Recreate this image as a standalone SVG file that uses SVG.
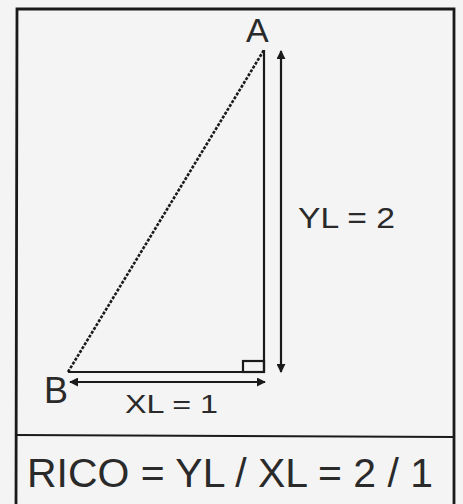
<svg xmlns="http://www.w3.org/2000/svg" width="463" height="504" viewBox="0 0 463 504">
<style>
.ln{stroke:#1a1a1a;stroke-width:2.2;fill:none}
.bd{stroke:#1a1a1a;stroke-width:2.8;fill:none}
.dot{stroke:#1a1a1a;stroke-width:2.6;fill:none;stroke-dasharray:3 1.5}
.t{font-family:"Liberation Sans",Arial,sans-serif;fill:#2a2a2a}
</style>
<defs>
<marker id="ah" viewBox="0 0 10 10" refX="9" refY="5" markerWidth="9" markerHeight="9" orient="auto-start-reverse" markerUnits="userSpaceOnUse">
<path d="M0,0 L10,5 L0,10 Z" fill="#1a1a1a"/>
</marker>
</defs>
<rect x="0" y="0" width="463" height="504" fill="#f4f4f4"/>
<g id="frame">
<path class="bd" d="M16,506 L17,9 L454,9 L454,506"/>
<line class="ln" x1="16" y1="435" x2="454" y2="437"/>
</g>
<g id="triangle">
<line class="ln" x1="264" y1="50" x2="264" y2="372"/>
<line class="ln" x1="68" y1="372" x2="264" y2="372"/>
<line class="dot" x1="68" y1="372" x2="264" y2="50"/>
<rect class="ln" x="243" y="361" width="21" height="11"/>
</g>
<g id="connectors">
<line class="ln" x1="281" y1="51" x2="281" y2="372" marker-start="url(#ah)" marker-end="url(#ah)"/>
<line class="ln" x1="70" y1="382" x2="265" y2="382" marker-start="url(#ah)" marker-end="url(#ah)"/>
</g>
<g id="node-A"><text class="t" x="246" y="42" font-size="34">A</text></g>
<g id="node-B"><text class="t" x="44" y="403" font-size="36">B</text></g>
<g id="label-YL"><text class="t" x="298" y="228" font-size="29" textLength="97" lengthAdjust="spacingAndGlyphs">YL = 2</text></g>
<g id="label-XL"><text class="t" x="125" y="413" font-size="25" textLength="93" lengthAdjust="spacingAndGlyphs">XL = 1</text></g>
<g id="formula"><text class="t" x="27" y="487" font-size="40" textLength="406" lengthAdjust="spacingAndGlyphs">RICO = YL / XL = 2 / 1</text></g>
</svg>
